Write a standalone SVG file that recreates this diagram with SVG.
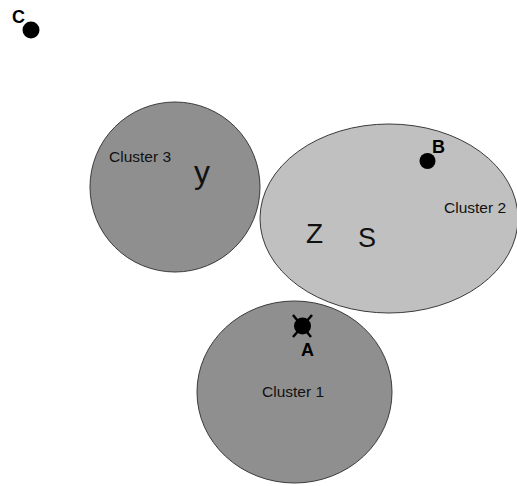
<svg xmlns="http://www.w3.org/2000/svg" width="517" height="486" viewBox="0 0 517 486">
<style>
.dark{fill:#8f8f8f;stroke:#3a3a3a;stroke-width:1}
.light{fill:#c0c0c0;stroke:#3a3a3a;stroke-width:1}
.lbl{font-family:"Liberation Sans",Arial,sans-serif;font-size:15.5px;fill:#111}
.big{font-family:"Liberation Sans",Arial,sans-serif;fill:#111}
.pt{font-family:"Liberation Sans",Arial,sans-serif;font-size:18px;font-weight:bold;fill:#000}
</style>
<rect width="517" height="486" fill="#fff"/>
<g id="cluster1">
<ellipse class="dark" cx="294.5" cy="392" rx="97.5" ry="91"/>
<text class="lbl" x="262" y="397">Cluster 1</text>
</g>
<g id="cluster2">
<ellipse class="light" cx="389" cy="218.5" rx="129" ry="94.5"/>
<text class="lbl" x="444" y="213">Cluster 2</text>
<text class="big" x="306" y="243" font-size="28">Z</text>
<text class="big" x="358" y="247" font-size="27">S</text>
</g>
<g id="cluster3">
<circle class="dark" cx="175" cy="187" r="85"/>
<text class="lbl" x="109" y="162">Cluster 3</text>
<text class="big" x="194" y="183" font-size="32">y</text>
</g>
<g id="pointA">
<circle cx="302.5" cy="326" r="8.5" fill="#000"/>
<line x1="293" y1="315" x2="311" y2="337" stroke="#000" stroke-width="2.5"/>
<line x1="312" y1="315" x2="293" y2="337" stroke="#000" stroke-width="2.5"/>
<text class="pt" x="301" y="356">A</text>
</g>
<g id="pointB">
<circle cx="427.5" cy="161" r="8" fill="#000"/>
<text class="pt" x="432" y="153">B</text>
</g>
<g id="pointC">
<circle cx="31" cy="30" r="8.5" fill="#000"/>
<text class="pt" x="12" y="23" font-size="16">C</text>
</g>
<g id="connectors"/>
</svg>
